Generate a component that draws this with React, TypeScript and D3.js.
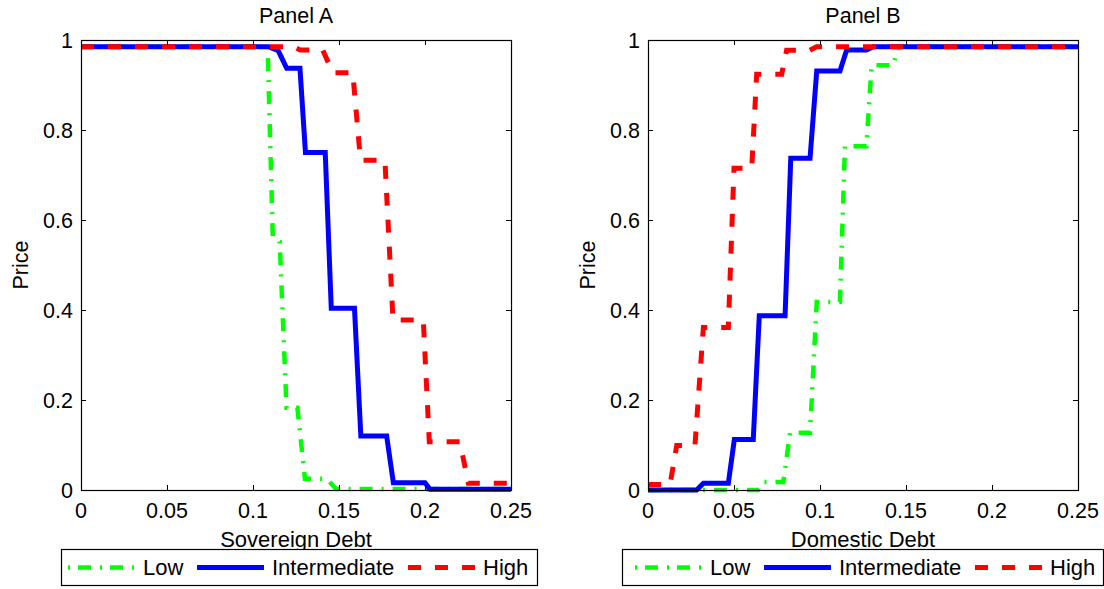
import React from "react";
import * as d3 from "d3";

// ---- Data ----
const xTicks = [0, 0.05, 0.1, 0.15, 0.2, 0.25];
const yTicks = [0, 0.2, 0.4, 0.6, 0.8, 1];
const seriesNames = ["Low", "Intermediate", "High"];

// Panel A: price against sovereign debt
const lowAX = [0, 0.1085, 0.1115, 0.1155, 0.1195, 0.1258, 0.1302, 0.1428, 0.1483, 0.25];
const lowAY = [0.985, 0.985, 0.562, 0.552, 0.183, 0.183, 0.025, 0.025, 0.002, 0.002];
const intAX = [0, 0.109, 0.1147, 0.1196, 0.1273, 0.1305, 0.142, 0.1455, 0.159, 0.1627, 0.1777, 0.1816, 0.2, 0.2029, 0.25];
const intAY = [0.985, 0.985, 0.976, 0.937, 0.937, 0.75, 0.75, 0.404, 0.404, 0.12, 0.12, 0.016, 0.016, 0.0015, 0.0015];
const highAX = [0, 0.1235, 0.1275, 0.1405, 0.1465, 0.158, 0.1625, 0.1767, 0.1814, 0.199, 0.2025, 0.2203, 0.2252, 0.25];
const highAY = [0.985, 0.985, 0.978, 0.978, 0.927, 0.927, 0.733, 0.733, 0.378, 0.378, 0.107, 0.107, 0.015, 0.015];

// Panel B: price against domestic debt
const lowBX = [0, 0.0641, 0.067, 0.0787, 0.0826, 0.0942, 0.0981, 0.1116, 0.1145, 0.127, 0.13, 0.1426, 0.1455, 0.25];
const lowBY = [0, 0, 0.018, 0.018, 0.127, 0.127, 0.418, 0.418, 0.764, 0.764, 0.944, 0.944, 0.985, 0.985];
const intBX = [0, 0.0283, 0.0322, 0.0467, 0.0502, 0.0612, 0.0647, 0.0797, 0.083, 0.0942, 0.0981, 0.1116, 0.1155, 0.127, 0.131, 0.25];
const intBY = [0, 0, 0.015, 0.015, 0.112, 0.112, 0.387, 0.387, 0.737, 0.737, 0.931, 0.931, 0.978, 0.978, 0.985, 0.985];
const highBX = [0, 0.0128, 0.0167, 0.0273, 0.0322, 0.0467, 0.05, 0.0603, 0.0632, 0.0777, 0.0806, 0.094, 0.098, 0.25];
const highBY = [0.012, 0.012, 0.099, 0.099, 0.361, 0.361, 0.715, 0.715, 0.924, 0.924, 0.977, 0.977, 0.985, 0.985];

// ---- Styles ----
const FONT = "'Liberation Sans', Arial, Helvetica, sans-serif";
const styles = [
  { color: "#00ff00", width: 4.5, dash: "13 9 2 9" },
  { color: "#0000ff", width: 5, dash: "none" },
  { color: "#ff0000", width: 5, dash: "13 14" },
];

type Pt = [number, number];
const zip = (xs: number[], ys: number[]): Pt[] => xs.map((x, i) => [x, ys[i]]);

interface PanelProps {
  title: string;
  xLabel: string;
  left: number;
  series: Pt[][];
  legendBox: [number, number];
  legendStart: number;
}

const TOP = 40;
const BOTTOM = 490;
const PLOT_W = 430;
const TICK = 5;
const FS = 21.5;

function Panel({ title, xLabel, left, series, legendBox, legendStart }: PanelProps) {
  const x = d3.scaleLinear().domain([0, 0.25]).range([left, left + PLOT_W]);
  const y = d3.scaleLinear().domain([0, 1]).range([BOTTOM, TOP]);
  const line = d3
    .line<Pt>()
    .x((d) => x(d[0]))
    .y((d) => y(d[1]));
  const cx = left + PLOT_W / 2;
  const midY = (TOP + BOTTOM) / 2;
  const itemOffsets = [0, 129, 340];
  const legY = 567.5;

  return (
    <g>
      <rect x={left} y={TOP} width={PLOT_W} height={BOTTOM - TOP} fill="#fff" />
      {series.map((pts, i) => (
        <path
          key={i}
          d={line(pts) || ""}
          fill="none"
          stroke={styles[i].color}
          strokeWidth={styles[i].width}
          strokeDasharray={styles[i].dash}
          strokeLinejoin="miter"
        />
      ))}
      {/* frame and inward ticks */}
      <rect x={left + 0.5} y={TOP + 0.5} width={PLOT_W} height={BOTTOM - TOP} fill="none" stroke="#000" strokeWidth={1.2} />
      {xTicks.map((t) => (
        <g key={"x" + t}>
          <line x1={x(t) + 0.5} x2={x(t) + 0.5} y1={BOTTOM} y2={BOTTOM - TICK} stroke="#000" />
          <line x1={x(t) + 0.5} x2={x(t) + 0.5} y1={TOP} y2={TOP + TICK} stroke="#000" />
          <text x={x(t)} y={518} textAnchor="middle" fontSize={FS} fontFamily={FONT}>
            {String(t)}
          </text>
        </g>
      ))}
      {yTicks.map((t) => (
        <g key={"y" + t}>
          <line x1={left} x2={left + TICK} y1={y(t) + 0.5} y2={y(t) + 0.5} stroke="#000" />
          <line x1={left + PLOT_W} x2={left + PLOT_W - TICK} y1={y(t) + 0.5} y2={y(t) + 0.5} stroke="#000" />
          <text x={left - 8} y={y(t) + 7.5} textAnchor="end" fontSize={FS} fontFamily={FONT}>
            {String(t)}
          </text>
        </g>
      ))}
      <text x={cx} y={23} textAnchor="middle" fontSize={FS} fontFamily={FONT}>
        {title}
      </text>
      <text x={cx} y={547} textAnchor="middle" fontSize={22} fontFamily={FONT}>
        {xLabel}
      </text>
      <text
        transform={`translate(${left - 53},${midY}) rotate(-90)`}
        textAnchor="middle"
        fontSize={FS}
        fontFamily={FONT}
      >
        Price
      </text>
      {/* legend */}
      <rect
        x={legendBox[0] + 0.5}
        y={549.5}
        width={legendBox[1] - legendBox[0]}
        height={36}
        fill="#fff"
        stroke="#000"
        strokeWidth={1.2}
      />
      {seriesNames.map((name, i) => {
        const sx = legendStart + itemOffsets[i];
        return (
          <g key={name}>
            <line
              x1={sx}
              x2={sx + 67}
              y1={legY}
              y2={legY}
              stroke={styles[i].color}
              strokeWidth={styles[i].width}
              strokeDasharray={i === 0 ? "2 8 13 9" : styles[i].dash}
            />
            <text x={sx + 75} y={575} fontSize={22} fontFamily={FONT}>
              {name}
            </text>
          </g>
        );
      })}
    </g>
  );
}

export default function App() {
  return (
    <svg
      width={1104}
      height={589}
      style={{ position: "absolute", left: 0, top: 0, background: "#fff" }}
    >
      <rect width={1104} height={589} fill="#fff" />
      <Panel
        title="Panel A"
        xLabel="Sovereign Debt"
        left={81}
        series={[zip(lowAX, lowAY), zip(intAX, intAY), zip(highAX, highAY)]}
        legendBox={[61, 537]}
        legendStart={68}
      />
      <Panel
        title="Panel B"
        xLabel="Domestic Debt"
        left={648}
        series={[zip(lowBX, lowBY), zip(intBX, intBY), zip(highBX, highBY)]}
        legendBox={[622, 1103]}
        legendStart={635}
      />
    </svg>
  );
}
